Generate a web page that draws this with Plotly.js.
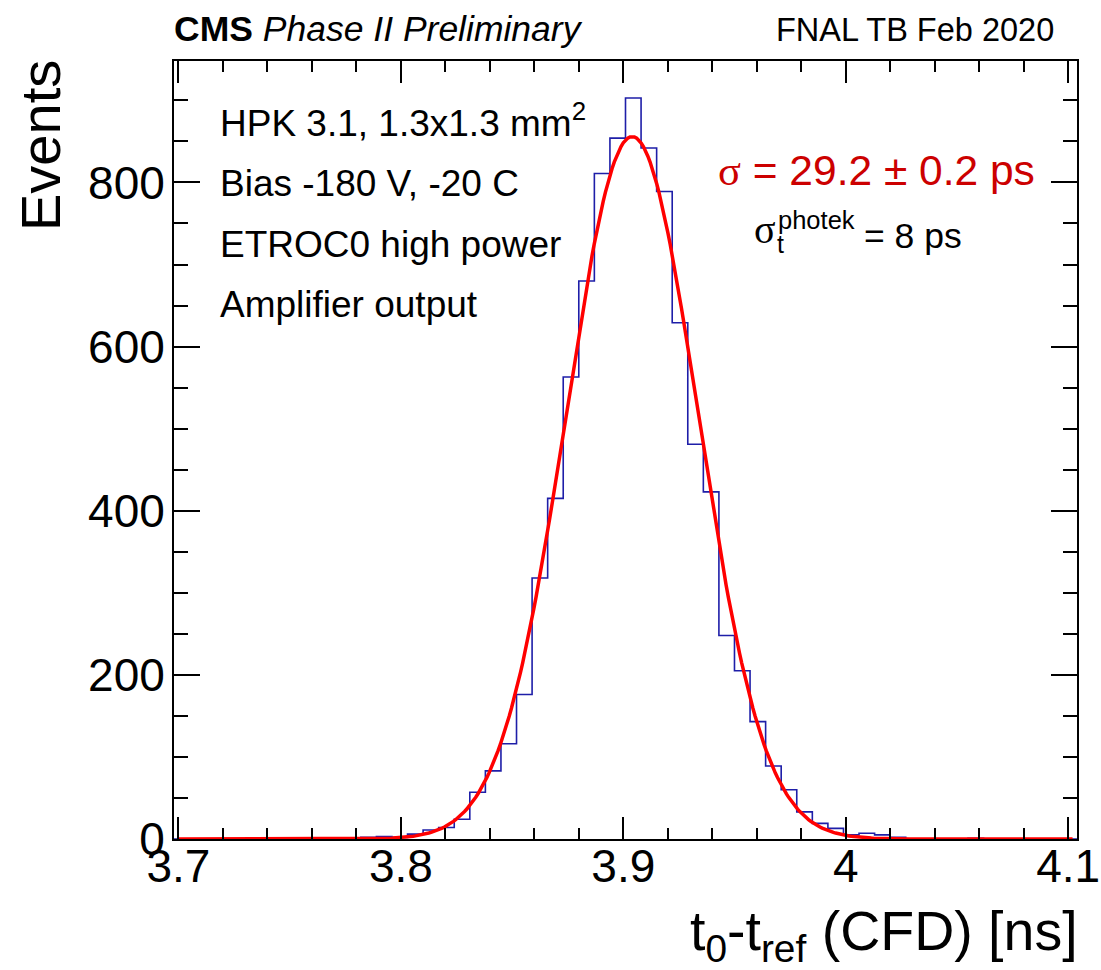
<!DOCTYPE html>
<html>
<head>
<meta charset="utf-8">
<script src="https://cdn.plot.ly/plotly-3.0.1.min.js"></script>
<style>html,body{margin:0;padding:0;background:#fff;}#chart{width:1101px;height:970px;}</style>
</head>
<body>
<div id="chart"></div>
<script>
// ---- data ----
const binCenters = [3.7015,3.7085,3.7155,3.7225,3.7295,3.7365,3.7435,3.7505,3.7575,3.7645,
  3.7715,3.7785,3.7855,3.7925,3.7995,3.8065,3.8135,3.8205,3.8275,3.8345,
  3.8415,3.8485,3.8555,3.8625,3.8695,3.8765,3.8835,3.8905,3.8975,3.9045,
  3.9115,3.9185,3.9255,3.9325,3.9395,3.9465,3.9535,3.9605,3.9675,3.9745,
  3.9815,3.9885,3.9955,4.0025,4.0095,4.0165,4.0235,4.0305,4.0375,4.0445,
  4.0515,4.0585,4.0655,4.0725,4.0795,4.0865,4.0935,4.1005];
const binCounts = [0,0,0,0,0,1,0,0,0,0,
  0,1,2,3,2,6,11,14,24,57,
  83,116,176,318,415,563,680,811,854,903,
  842,789,629,481,423,248,205,143,89,60,
  33,19,13,5,7,5,2,0,0,0,
  0,1,0,0,0,0,0,0];
const binWidth = 0.007;
// Gaussian fit parameters (fit curve)
const fitMean = 3.904, fitSigma = 0.0296, fitAmp = 856;
const fitRange = [3.7, 4.102];
const xTickVals = [3.7, 3.8, 3.9, 4.0, 4.1];
const xTickText = ["3.7", "3.8", "3.9", "4", "4.1"];
const yTickVals = [0, 200, 400, 600, 800];
const yTickText = ["0", "200", "400", "600", "800"];

// ---- histogram outline (step) ----
const hx = [], hy = [];
for (let i = 0; i < binCenters.length; i++) {
  hx.push(binCenters[i] - binWidth / 2);
  hy.push(binCounts[i]);
}
hx.push(binCenters[binCenters.length - 1] + binWidth / 2);
hy.push(binCounts[binCounts.length - 1]);

// ---- fit curve ----
const fx = [], fy = [];
const nPts = 400;
for (let i = 0; i <= nPts; i++) {
  const x = fitRange[0] + (fitRange[1] - fitRange[0]) * i / nPts;
  fx.push(x);
  fy.push(fitAmp * Math.exp(-0.5 * Math.pow((x - fitMean) / fitSigma, 2)));
}

const W = 1101, H = 970;
const mL = 174, mR = 24, mT = 61, mB = 131;
const pw = W - mL - mR, ph = H - mT - mB;
const px = p => (p - mL) / pw;
const py = p => (H - mB - p) / ph;

const SANS = "Liberation Sans, Arial, Helvetica, sans-serif";
const SERIF = "Liberation Serif, Times New Roman, serif";

const traces = [
  {x: hx, y: hy, type: 'scatter', mode: 'lines', line: {shape: 'hv', color: '#1e1ea8', width: 1.6},
   hoverinfo: 'skip', showlegend: false, cliponaxis: true},
  {x: fx, y: fy, type: 'scatter', mode: 'lines', line: {color: '#ff0000', width: 3.5},
   hoverinfo: 'skip', showlegend: false}
];

function ann(text, x, y, size, opts) {
  return Object.assign({text: text, xref: 'paper', yref: 'paper', x: px(x), y: py(y),
    xanchor: 'left', yanchor: 'middle', showarrow: false,
    font: {family: SANS, size: size, color: '#000'}}, opts || {});
}

const annotations = [
  ann('<b>CMS</b> <i>Phase II Preliminary</i>', 172, 29, 35.5),
  ann('FNAL TB Feb 2020', 1056, 30, 32.5, {xanchor: 'right'}),
  ann('HPK 3.1, 1.3x1.3 mm<sup>2</sup>', 218, 120, 37),
  ann('Bias -180 V, -20 C', 218, 184, 37),
  ann('ETROC0 high power', 218, 244, 37),
  ann('Amplifier output', 218, 304, 37),
  ann('<span style="font-family:Liberation Serif">σ</span> = 29.2 ± 0.2 ps', 716, 170, 42.5,
      {font: {family: SANS, size: 42.5, color: '#cc0000'}}),
  ann('σ', 752, 230, 40, {font: {family: SERIF, size: 40, color: '#000'}}),
  ann('t', 775, 244, 25),
  ann('photek', 776, 220, 25.5),
  ann('= 8 ps', 862, 236, 35.5),
  ann('t<sub>0</sub>-t<sub>ref</sub> (CFD) [ns]', 1080, 935, 55.5, {xanchor: 'right'}),
  {text: 'Events', xref: 'paper', yref: 'paper', x: px(40), y: py(146), xanchor: 'center', yanchor: 'middle',
   textangle: -90, showarrow: false, font: {family: SANS, size: 56, color: '#000'}}
];

const layout = {
  width: W, height: H,
  margin: {l: mL, r: mR, t: mT, b: mB, pad: 0},
  paper_bgcolor: '#fff', plot_bgcolor: '#fff',
  showlegend: false,
  font: {family: SANS, color: '#000'},
  xaxis: {
    range: [3.698, 4.104], showgrid: false, zeroline: false,
    showline: true, linecolor: '#000', linewidth: 2, mirror: 'allticks',
    ticks: 'inside', ticklen: 22, tickwidth: 2, tickcolor: '#000',
    tickmode: 'array', tickvals: xTickVals, ticktext: xTickText,
    tickfont: {family: SANS, size: 46, color: '#000'}, ticklabelstandoff: -14,
    minor: {ticks: 'inside', ticklen: 11, tickwidth: 2, tickcolor: '#000', dtick: 0.02, tick0: 3.7, showgrid: false}
  },
  yaxis: {
    range: [0, 948], showgrid: false, zeroline: false,
    showline: true, linecolor: '#000', linewidth: 2, mirror: 'allticks',
    ticks: 'inside', ticklen: 26, tickwidth: 2, tickcolor: '#000',
    tickmode: 'array', tickvals: yTickVals, ticktext: yTickText,
    tickfont: {family: SANS, size: 46, color: '#000'}, ticklabelstandoff: -2,
    minor: {ticks: 'inside', ticklen: 14, tickwidth: 2, tickcolor: '#000', dtick: 50, tick0: 0, showgrid: false}
  },
  annotations: annotations
};

Plotly.newPlot('chart', traces, layout, {staticPlot: true, displayModeBar: false});
</script>
</body>
</html>
